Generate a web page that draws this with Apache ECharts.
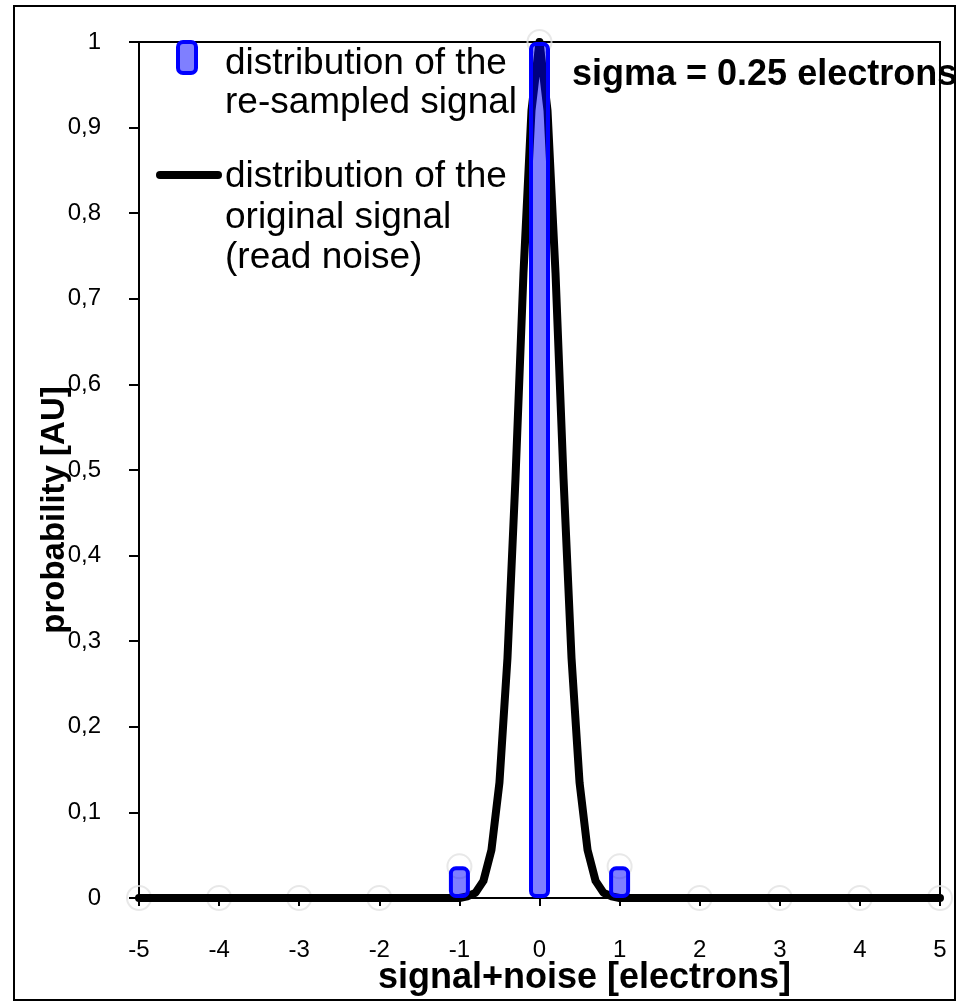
<!DOCTYPE html>
<html>
<head>
<meta charset="utf-8">
<title>distribution</title>
<script src="https://cdn.jsdelivr.net/npm/echarts@6/dist/echarts.min.js"></script>
<style>
	html, body { margin: 0; padding: 0; background: #fff; }
	#main { width: 959px; height: 1003px; }
</style>
</head>
<body>
<div id="main"></div>
<script>
// re-sampled signal (integer electrons)
var sampleX = [-5, -4, -3, -2, -1, 0, 1, 2, 3, 4, 5];
var sampleY = [0, 0, 0, 0, 0.037, 1, 0.037, 0, 0, 0, 0];
// original signal (read noise)
var origX = [-5, -4, -3, -2, -1, -0.9, -0.8, -0.7, -0.6, -0.5, -0.4, -0.3, -0.2, -0.1, 0,
	0.1, 0.2, 0.3, 0.4, 0.5, 0.6, 0.7, 0.8, 0.9, 1, 2, 3, 4, 5];
var origY = [0, 0, 0, 0, 0, 0.002, 0.006, 0.02, 0.056, 0.135, 0.28, 0.49, 0.73, 0.92, 1,
	0.92, 0.73, 0.49, 0.28, 0.135, 0.056, 0.02, 0.006, 0.002, 0, 0, 0, 0, 0];
var xTicks = [-5, 5, 1];
var yTicks = [0, 1, 0.1];

var legendText1 = 'distribution of the\nre-sampled signal';
var legendText2 = 'distribution of the\noriginal signal\n(read noise)';
var noteText = 'sigma = 0.25 electrons';

var FONT = '"Liberation Sans", Arial, sans-serif';

function pairs(xs, ys, skipZero) {
	var out = [];
	for (var i = 0; i < xs.length; i++) {
		if (skipZero && ys[i] === 0) {
			out.push([xs[i], '-']);
		} else {
			out.push([xs[i], ys[i]]);
		}
	}
	return out;
}

function drawChart() {
	var myChart = echarts.init(document.getElementById('main'));
	var option = {
		animation: false,
		backgroundColor: '#fff',
		textStyle: { fontFamily: FONT, color: '#000' },
		title: {
			text: noteText,
			left: 567,
			top: 52,
			textStyle: { fontFamily: FONT, fontSize: 36, fontWeight: 'bold', color: '#000' }
		},
		grid: {
			left: 139,
			right: 19,
			top: 42,
			bottom: 105,
			show: true,
			borderColor: '#000',
			borderWidth: 2,
			backgroundColor: 'transparent'
		},
		xAxis: {
			type: 'value',
			min: xTicks[0],
			max: xTicks[1],
			interval: xTicks[2],
			splitLine: { show: false },
			axisLine: { show: true, onZero: false, lineStyle: { color: '#000', width: 2 } },
			axisTick: { show: true, inside: false, length: 8, lineStyle: { color: '#000', width: 2 } },
			axisLabel: { color: '#000', fontSize: 24, fontFamily: FONT, margin: 40 },
			name: 'signal+noise [electrons]',
			nameLocation: 'middle',
			nameGap: 62,
			nameMoveOverlap: false,
			nameTextStyle: {
				color: '#000', fontSize: 36, fontWeight: 'bold', fontFamily: FONT,
				padding: [0, 0, 0, 90]
			}
		},
		yAxis: {
			type: 'value',
			min: yTicks[0],
			max: yTicks[1],
			interval: yTicks[2],
			splitLine: { show: false },
			axisLine: { show: true, onZero: false, lineStyle: { color: '#000', width: 2 } },
			axisTick: { show: true, inside: false, length: 10, lineStyle: { color: '#000', width: 2 } },
			axisLabel: {
				color: '#000', fontSize: 24, fontFamily: FONT, margin: 38,
				formatter: function (v) {
					if (v === 0) return '0';
					if (v === 1) return '1';
					return v.toFixed(1).replace('.', ',');
				}
			},
			name: 'probability [AU]',
			nameLocation: 'middle',
			nameGap: 68,
			nameMoveOverlap: false,
			nameTextStyle: {
				color: '#000', fontSize: 33, fontWeight: 'bold', fontFamily: FONT,
				padding: [0, 80, 0, 0]
			}
		},
		series: [
			{
				// faint hollow markers of the re-sampled points
				name: 'marks',
				type: 'scatter',
				z: 1,
				symbol: 'circle',
				symbolSize: 24,
				itemStyle: { color: 'rgba(255,255,255,0)', borderColor: '#e2e2e2', borderWidth: 2 },
				data: pairs(sampleX, sampleY, false)
			},
			{
				name: 'original',
				type: 'line',
				z: 2,
				showSymbol: false,
				symbol: 'none',
				lineStyle: { color: '#000', width: 8, cap: 'round', join: 'round' },
				data: pairs(origX, origY, false)
			},
			{
				name: 're-sampled',
				type: 'bar',
				z: 3,
				barWidth: 21,
				itemStyle: {
					color: 'rgba(0,0,255,0.5)',
					borderColor: '#0000ff',
					borderWidth: 4,
					borderRadius: 5
				},
				data: pairs(sampleX, sampleY, true)
			}
		],
		graphic: [
			{
				// outer frame
				type: 'rect',
				silent: true,
				z: 0,
				shape: { x: 14, y: 6, width: 941, height: 994 },
				style: { fill: 'none', stroke: '#000', lineWidth: 2 }
			},
			{
				// legend: re-sampled signal
				type: 'rect',
				z: 10,
				shape: { x: 178, y: 42, width: 18, height: 31, r: 5 },
				style: { fill: 'rgba(0,0,255,0.5)', stroke: '#0000ff', lineWidth: 4 }
			},
			{
				type: 'text',
				z: 10,
				left: 225,
				top: 44,
				style: { text: legendText1, font: '37px ' + FONT, fill: '#000', lineHeight: 39 }
			},
			{
				// legend: original signal
				type: 'line',
				z: 10,
				shape: { x1: 160, y1: 175, x2: 218, y2: 175 },
				style: { stroke: '#000', lineWidth: 8, lineCap: 'round' }
			},
			{
				type: 'text',
				z: 10,
				left: 225,
				top: 157,
				style: { text: legendText2, font: '37px ' + FONT, fill: '#000', lineHeight: 40.5 }
			}
		]
	};
	myChart.setOption(option);
}

drawChart();
</script>
</body>
</html>
